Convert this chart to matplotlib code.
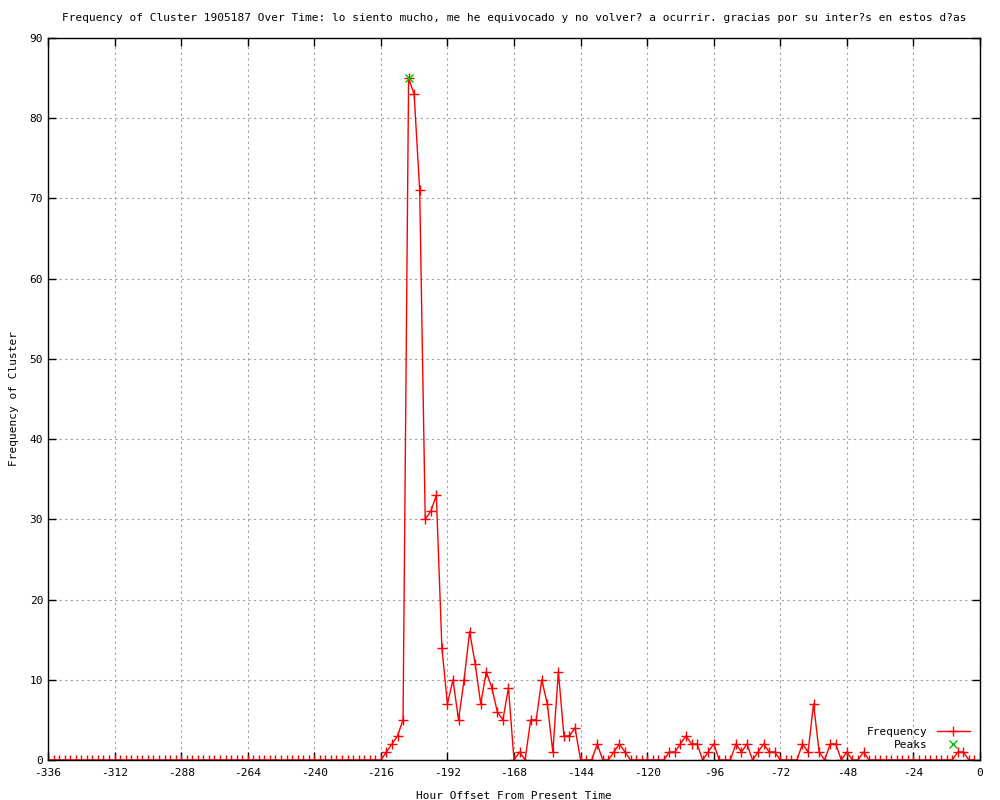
import numpy as np
import matplotlib
matplotlib.use('Agg')
import matplotlib.pyplot as plt

plt.rcParams['font.family'] = 'DejaVu Sans Mono'
plt.rcParams['font.size'] = 8
plt.rcParams['axes.unicode_minus'] = False

# hour offsets, every 2 hours
hours = list(range(-336, 0, 2))

freq_early = [0] * 60
freq_main = [0, 1, 2, 3, 5, 85, 83, 71, 30, 31, 33, 14, 7, 10, 5, 10, 16, 12, 7, 11,
             9, 6, 5, 9, 0, 1, 0, 5, 5, 10, 7, 1, 11, 3, 3, 4, 0, 0, 0, 2,
             0, 0, 1, 2, 1, 0, 0, 0, 0, 0, 0, 0, 1, 1, 2, 3, 2, 2, 0, 1,
             2, 0, 0, 0, 2, 1, 2, 0, 1, 2, 1, 1, 0, 0, 0, 0, 2, 1, 7, 1,
             0, 2, 2, 0, 1, 0, 0, 1, 0, 0, 0, 0, 0, 0, 0, 0, 0, 0, 0, 0,
             0, 0, 0, 0, 1, 1, 0, 0]
freq = freq_early + freq_main

peak_x = [-206]
peak_y = [85]

title = ('Frequency of Cluster 1905187 Over Time: lo siento mucho, me he equivocado '
         'y no volver? a ocurrir. gracias por su inter?s en estos d?as')

fig = plt.figure(figsize=(10, 8), dpi=100)
ax = fig.add_axes([0.048, 0.05, 0.932, 0.9025])

ax.plot(hours, freq, color='red', lw=1, marker='+', ms=7, mew=1, label='Frequency')
ax.plot(peak_x, peak_y, ls='none', color='#00c000', marker='x', ms=6, mew=1, label='Peaks')

ax.set_xlim(-336, 0)
ax.set_ylim(0, 90)
ax.set_xticks(range(-336, 1, 24))
ax.set_yticks(range(0, 91, 10))
ax.tick_params(direction='in', top=True, right=True, length=6, width=1)
ax.tick_params(axis='x', pad=6)
ax.grid(True, ls=(0, (2, 3)), color='#a0a0a0', lw=0.8)
for s in ax.spines.values():
    s.set_linewidth(1)

ax.set_title(title, fontsize=8, pad=12)
ax.set_xlabel('Hour Offset From Present Time', labelpad=9)
ax.set_ylabel('Frequency of Cluster', labelpad=8)

ax.legend(loc='lower right', frameon=False, markerfirst=False, handlelength=3,
          borderaxespad=0.5, labelspacing=0.25)

fig.savefig('out.png')
